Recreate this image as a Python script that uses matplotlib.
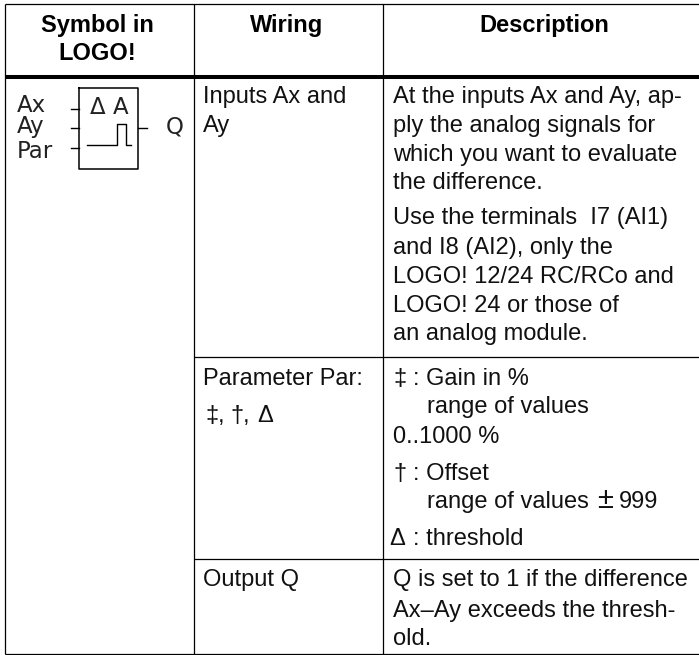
import matplotlib
matplotlib.use("Agg")
import matplotlib.pyplot as plt

W, H = 699, 655
plt.rcParams['font.family'] = ['Liberation Sans', 'DejaVu Sans']

headers = [("Symbol in", 97.5, 32), ("LOGO!", 97.5, 60), ("Wiring", 287, 32), ("Description", 544, 32)]
body = [
 ("Inputs Ax and", 203, 103), ("Ay", 203, 132),
 ("At the inputs Ax and Ay, ap-", 393, 103), ("ply the analog signals for", 393, 132),
 ("which you want to evaluate", 393, 161), ("the difference.", 393, 189),
 ("Use the terminals  I7 (AI1)", 393, 224), ("and I8 (AI2), only the", 393, 254),
 ("LOGO! 12/24 RC/RCo and", 393, 283), ("LOGO! 24 or those of", 393, 312), ("an analog module.", 393, 340),
 ("Parameter Par:", 203, 385),
 ("‡", 205, 422), (",", 218, 422), ("†", 230, 422), (",", 243, 422), ("Δ", 257, 422),
 ("‡", 393, 385), (": Gain in %", 413, 385), ("range of values", 427, 413), ("0..1000 %", 393, 443),
 ("†", 393, 480), (": Offset", 413, 480), ("range of values", 427, 508), ("999", 619, 508),
 ("Δ", 389, 545), (": threshold", 413, 545),
 ("Output Q", 203, 586),
 ("Q is set to 1 if the difference", 393, 586), ("Ax–Ay exceeds the thresh-", 393, 617), ("old.", 393, 645),
]
plusminus = [("±", 597, 508)]
symbol_stack = [("Ax\nAy", 17, 133)]
symbol_labels = [("Par", 17, 158), ("Q", 166, 134), ("Δ", 90, 114), ("A", 113, 114)]

fig = plt.figure(figsize=(W / 100, H / 100), dpi=100)
ax = fig.add_axes([0, 0, 1, 1])
ax.set_xlim(0, W); ax.set_ylim(H, 0); ax.axis('off')

L, C1, C2, R = 4.5, 193.5, 382.5, 699
T, HB, R2, R3, B = 3.5, 77, 357, 559, 654
lw = 0.9
for x in (L, C1, C2):
    ax.plot([x, x], [T, B], color='black', lw=lw, solid_capstyle='butt')
for y, a in ((T, L), (B, L), (R2, C1), (R3, C1)):
    ax.plot([a, R], [y, y], color='black', lw=lw, solid_capstyle='butt')
ax.plot([L, R], [HB, HB], color='black', lw=2.9, solid_capstyle='butt')

for s, x, y in headers:
    ax.text(x, y, s, ha='center', va='baseline', fontsize=17, fontweight='bold', color='black')
for s, x, y in body:
    ax.text(x, y, s, ha='left', va='baseline', fontsize=17, color='#111111')
for s, x, y in plusminus:
    ax.text(x, y, s, ha='left', va='baseline', fontsize=21, color='#111111')
for s, x, y in symbol_stack:
    ax.text(x, y, s, ha='left', va='baseline', fontsize=16.5, color='#222222',
            family=['DejaVu Sans'], linespacing=0.9)
for s, x, y in symbol_labels:
    ax.text(x, y, s, ha='left', va='baseline', fontsize=16.5, color='#222222', family=['DejaVu Sans'])

# symbol box and pins
ax.plot([79, 138, 138, 79, 79], [88, 88, 169, 169, 88], color='black', lw=1.1)
for y in (108.5, 128, 148):
    ax.plot([71, 79], [y, y], color='black', lw=1)
ax.plot([138, 147], [128, 128], color='black', lw=1)
ax.plot([87, 117, 117, 126, 126, 131], [145, 145, 124, 124, 145, 145], color='black', lw=1)

fig.savefig('out.png', dpi=100)
